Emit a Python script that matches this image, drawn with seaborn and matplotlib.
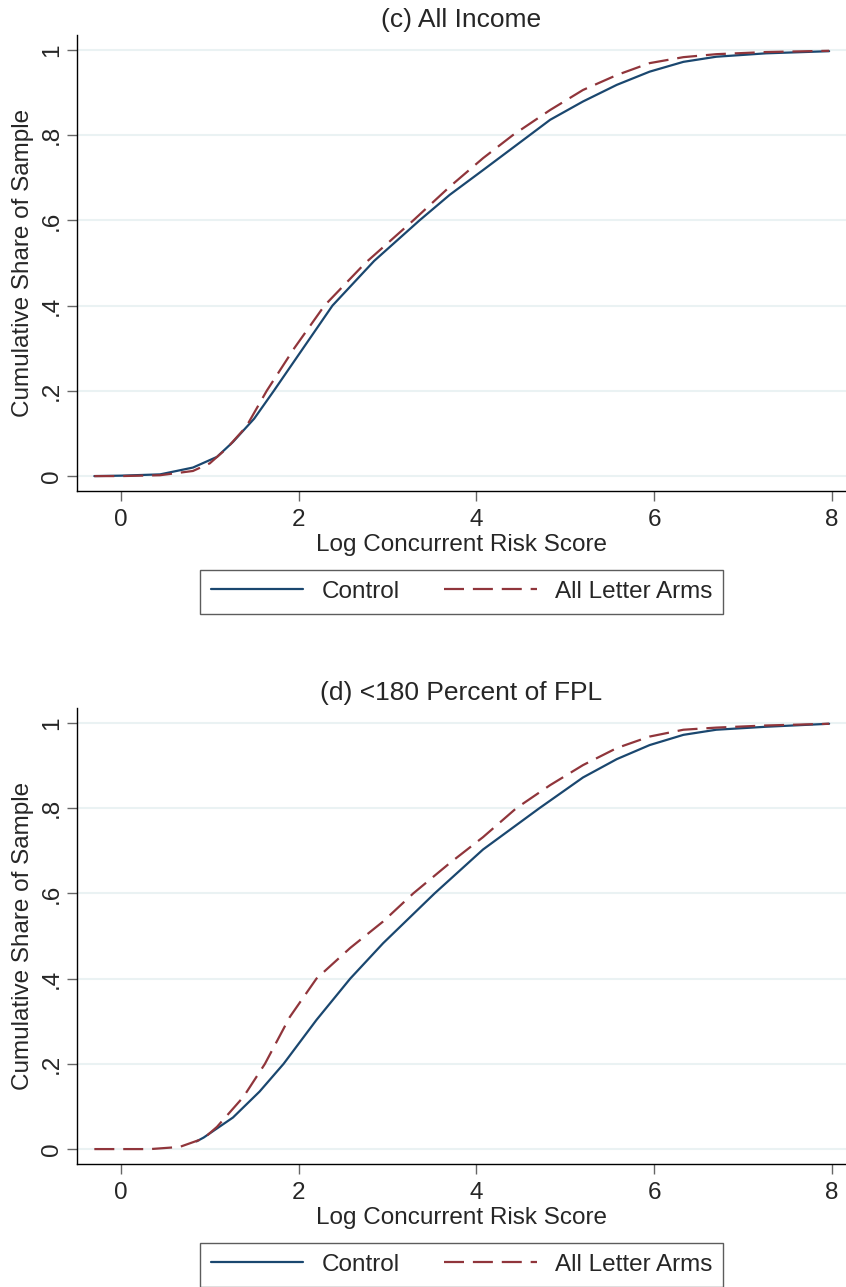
import numpy as np
import pandas as pd
import seaborn as sns
import matplotlib.pyplot as plt

# panel (c) All Income
c_ctrl_x = [-0.3, 0.0, 0.44, 0.81, 1.08, 1.26, 1.5, 1.72, 2.05, 2.38, 2.85, 3.36, 3.70, 4.075, 4.60, 4.83, 5.20, 5.58, 5.95, 6.33, 6.70, 7.26, 7.97]
c_ctrl_y = [0.0, 0.001, 0.004, 0.02, 0.045, 0.08, 0.135, 0.20, 0.30, 0.40, 0.505, 0.60, 0.66, 0.718, 0.80, 0.836, 0.879, 0.918, 0.949, 0.972, 0.984, 0.992, 0.997]
c_lett_x = [-0.3, 0.0, 0.44, 0.81, 1.0, 1.19, 1.41, 1.64, 1.95, 2.29, 2.75, 3.29, 3.70, 4.075, 4.41, 4.83, 5.20, 5.58, 5.95, 6.33, 6.70, 7.26, 7.97]
c_lett_y = [0.0, 0.0, 0.002, 0.012, 0.03, 0.065, 0.116, 0.20, 0.30, 0.40, 0.50, 0.60, 0.679, 0.746, 0.80, 0.859, 0.906, 0.941, 0.969, 0.983, 0.990, 0.995, 0.998]

# panel (d) <180 Percent of FPL
d_ctrl_x = [0.85, 0.93, 1.26, 1.56, 1.83, 2.20, 2.58, 2.95, 3.53, 4.075, 4.71, 5.20, 5.58, 5.95, 6.33, 6.70, 7.26, 7.97]
d_ctrl_y = [0.018, 0.027, 0.074, 0.135, 0.20, 0.303, 0.40, 0.483, 0.60, 0.703, 0.80, 0.872, 0.915, 0.948, 0.972, 0.984, 0.991, 0.998]
d_lett_x = [-0.3, 0.0, 0.33, 0.66, 0.93, 1.08, 1.38, 1.62, 1.90, 2.20, 2.58, 2.95, 3.29, 3.70, 4.075, 4.45, 4.83, 5.20, 5.58, 5.95, 6.33, 6.70, 7.26, 7.97]
d_lett_y = [0.0, 0.0, 0.0, 0.005, 0.025, 0.052, 0.123, 0.20, 0.31, 0.40, 0.472, 0.534, 0.60, 0.671, 0.732, 0.80, 0.854, 0.901, 0.941, 0.968, 0.984, 0.989, 0.994, 0.998]

titles = ["(c) All Income", "(d) <180 Percent of FPL"]
y_ticks = [0, 0.2, 0.4, 0.6, 0.8, 1]
y_ticklabels = ["0", ".2", ".4", ".6", ".8", "1"]
x_ticks = [0, 2, 4, 6, 8]

navy = "#1a476f"
maroon = "#90353b"

sns.set_style("white")
plt.rcParams['font.family'] = ['Liberation Sans', 'DejaVu Sans']

fig = plt.figure(figsize=(8.46, 12.87), dpi=100)
ax_c = fig.add_axes([77 / 846, 1 - 491 / 1287, 769 / 846, 456 / 1287])
ax_d = fig.add_axes([77 / 846, 1 - 1164 / 1287, 769 / 846, 456 / 1287])

panels = [
    (ax_c, c_ctrl_x, c_ctrl_y, c_lett_x, c_lett_y, titles[0]),
    (ax_d, d_ctrl_x, d_ctrl_y, d_lett_x, d_lett_y, titles[1]),
]

fs = 17.5
for ax, cx, cy, lx, ly, title in panels:
    for yt in y_ticks:
        ax.axhline(yt, color="#eaf2f3", lw=1.5, zorder=0)
    sns.lineplot(x=cx, y=cy, ax=ax, color=navy, lw=1.6, label="Control")
    sns.lineplot(x=lx, y=ly, ax=ax, color=maroon, lw=1.6, label="All Letter Arms")
    ax.lines[-1].set_linestyle((0, (9, 4)))
    ax.set_xlim(-0.495, 8.16)
    ax.set_ylim(-0.035, 1.035)
    ax.set_xticks(x_ticks)
    ax.set_xticklabels([str(t) for t in x_ticks], fontsize=fs)
    ax.set_yticks(y_ticks)
    ax.set_yticklabels(y_ticklabels, fontsize=fs, rotation=90, va="center")
    ax.tick_params(axis="both", direction="out", length=7, width=1, color="#666666",
                   left=True, bottom=True, pad=6)
    ax.tick_params(axis="y", pad=3)
    ax.set_xlabel("Log Concurrent Risk Score", fontsize=fs, labelpad=2)
    ax.set_ylabel("Cumulative Share of Sample", fontsize=fs, labelpad=5)
    ax.set_title(title, fontsize=19, pad=6)
    for s in ["top", "right"]:
        ax.spines[s].set_visible(False)
    for s in ["left", "bottom"]:
        ax.spines[s].set_color("black")
        ax.spines[s].set_linewidth(1)
    leg = ax.legend(loc="upper center", bbox_to_anchor=(0.5, -0.173), ncol=2,
                    fontsize=fs, frameon=True, fancybox=False, handlelength=3.8,
                    columnspacing=1.85, borderpad=0.45, handletextpad=0.75,
                    borderaxespad=0)
    leg.get_frame().set_edgecolor("#333333")
    leg.get_frame().set_linewidth(1)

fig.savefig("out.png", dpi=100)
